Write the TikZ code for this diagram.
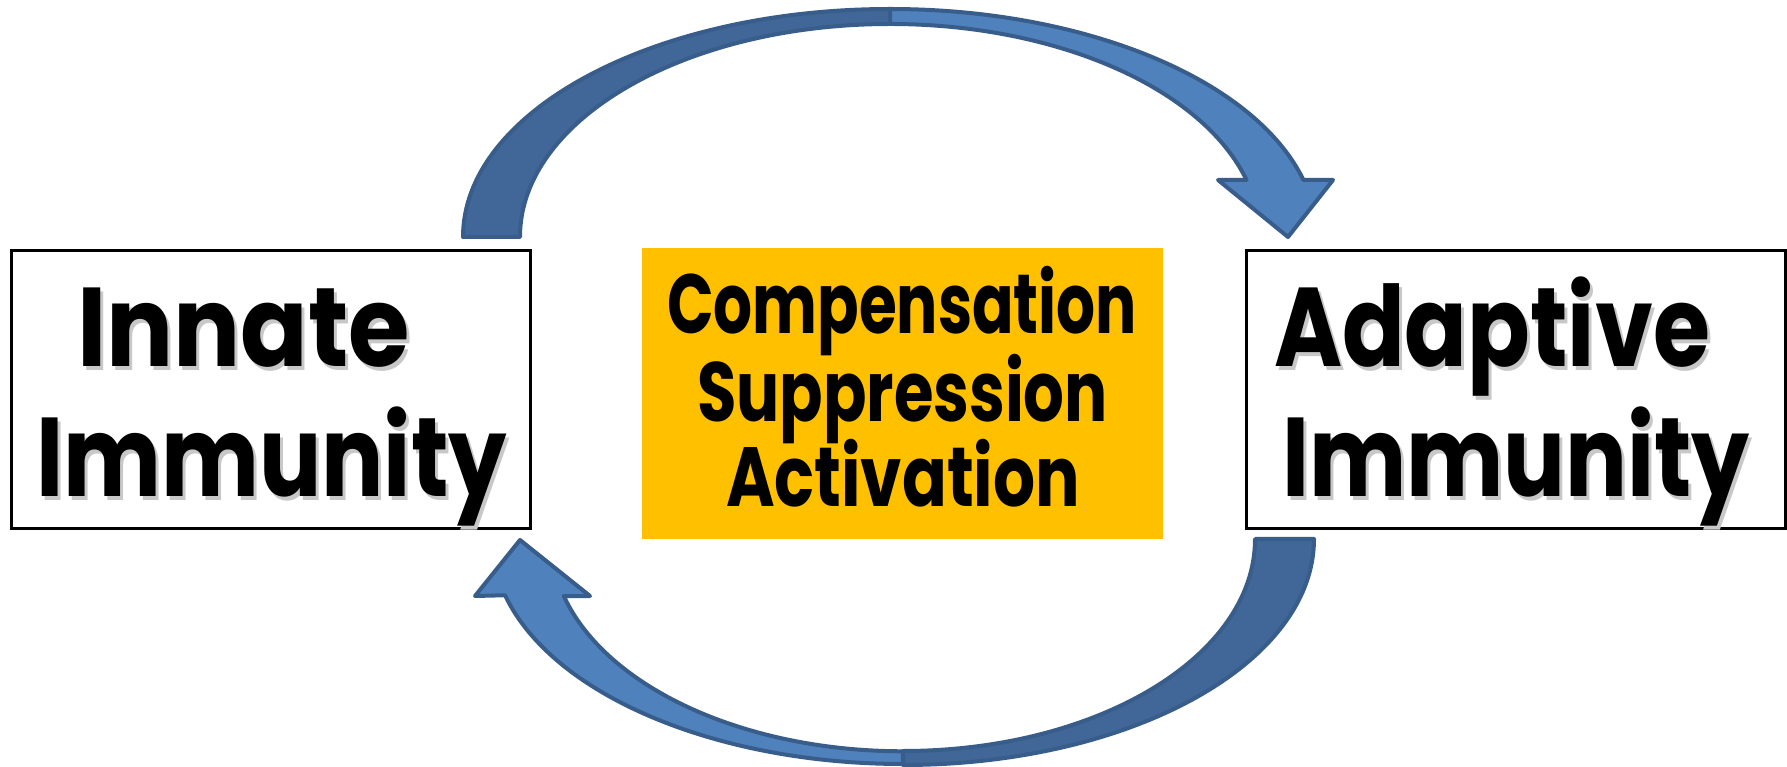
\documentclass[tikz,border=0pt]{standalone}
\usepackage{fontspec}
\setmainfont{Poppins}
\definecolor{arrowdark}{RGB}{64,103,151}
\definecolor{arrowlight}{RGB}{79,129,189}
\definecolor{arrowline}{RGB}{56,93,138}
\definecolor{gold}{RGB}{255,192,0}
\definecolor{txtshadow}{RGB}{200,200,200}
\newlength\natwd
\newcommand\fitwd[2]{\settowidth\natwd{#2}\pgfmathsetmacro\fitsx{#1/\natwd}\scalebox{\fitsx}[1]{#2}}
\tikzset{
  ribbondark/.style={fill=arrowdark, draw=arrowline, line width=4pt, line join=round},
  ribbonlight/.style={fill=arrowlight, draw=arrowline, line width=4pt, line join=round},
  immbox/.style={draw=black, line width=2.5pt, fill=white, inner sep=0},
  goldbox/.style={fill=gold, inner sep=0},
  bigtext/.style={font=\fontsize{112}{112}\selectfont\bfseries, anchor=base, inner sep=0},
  midtext/.style={font=\fontsize{84}{84}\selectfont\bfseries, anchor=base, inner sep=0},
  shade/.style={text=txtshadow},
}
\begin{document}
\begin{tikzpicture}[x=1pt,y=1pt]
\useasboundingbox (0,0) rectangle (1787,766);
% boxes
\node[immbox, minimum width=519pt, minimum height=278pt, anchor=south west] (innatebox) at (10,236) {};
\node[immbox, minimum width=539pt, minimum height=278pt, anchor=south west] (adaptivebox) at (1245,236) {};
\node[goldbox, minimum width=521pt, minimum height=291pt, anchor=south west] (centerbox) at (642,227) {};
% top arrow (innate -> adaptive)
\draw[ribbondark] (463,529) arc[start angle=180, end angle=90, x radius=427, y radius=228]
  -- (890,742) arc[start angle=90, end angle=180, x radius=370, y radius=213] -- cycle;
\draw[ribbonlight] (890,757) arc[start angle=90, end angle=14.48, x radius=427, y radius=228]
  -- (1333,586) -- (1288,529) -- (1218,586) -- (1246.5,586)
  arc[start angle=15.52, end angle=90, x radius=370, y radius=213] -- cycle;
% bottom arrow (adaptive -> innate)
\draw[ribbondark] (1314,227) arc[start angle=0, end angle=-90, x radius=411, y radius=226]
  -- (903,15) arc[start angle=-90, end angle=0, x radius=352, y radius=212] -- cycle;
\draw[ribbonlight] (903,2) arc[start angle=270, end angle=194.48, x radius=411, y radius=225]
  -- (475,170) -- (520,226) -- (590,170) -- (563.8,170)
  arc[start angle=195.52, end angle=270, x radius=352, y radius=212] -- cycle;
% texts with shadow
\node[bigtext, shade] (innate-s) at (246.5,395.5) {\fitwd{333}{Innate}};
\node[bigtext] (innate) at (243.5,399) {\fitwd{333}{Innate}};
\node[bigtext, shade] (immunityl-s) at (274.5,265.5) {\fitwd{471}{Immunity}};
\node[bigtext] (immunityl) at (271.5,269) {\fitwd{471}{Immunity}};
\node[bigtext, shade] (adaptive-s) at (1495,395.5) {\fitwd{436}{Adaptive}};
\node[bigtext] (adaptive) at (1492,399) {\fitwd{436}{Adaptive}};
\node[bigtext, shade] (immunityr-s) at (1519,265.5) {\fitwd{468}{Immunity}};
\node[bigtext] (immunityr) at (1516,269) {\fitwd{468}{Immunity}};
\node[midtext] (comp) at (902,432) {\fitwd{470}{Compensation}};
\node[midtext] (supp) at (902.5,344) {\fitwd{411}{Suppression}};
\node[midtext] (activ) at (903,259) {\fitwd{354}{Activation}};
\end{tikzpicture}
\end{document}
